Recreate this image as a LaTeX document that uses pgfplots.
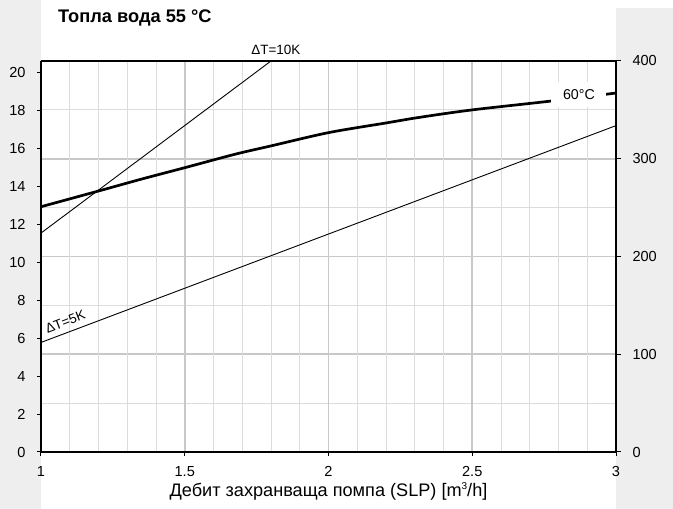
\documentclass[border=0pt]{standalone}
\usepackage{fontspec}
\setmainfont{Liberation Sans}
\usepackage{pgfplots}
\pgfplotsset{compat=1.18}
\definecolor{bggray}{HTML}{EEEEEE}
\definecolor{gmaj}{HTML}{C8C8C8}
\definecolor{gmin}{HTML}{DCDCDC}
\definecolor{thin}{HTML}{444444}
\begin{document}
\begin{tikzpicture}[x=1bp,y=1bp]
\useasboundingbox (-41,-57) rectangle (632,452);
\fill[bggray] (-41,-57) rectangle (0,452);
\fill[bggray] (575,-57) rectangle (632,444);
% right axis with horizontal grid
\begin{axis}[
  at={(0,0)}, anchor=south west,
  scale only axis, width=575bp, height=391bp,
  xmin=1, xmax=3, ymin=0, ymax=400,
  hide x axis,
  axis y line*=right,
  ytick={0,100,200,300,400},
  minor ytick={50,150,250,350},
  ymajorgrids, yminorgrids,
  major grid style={gmaj, line width=1.8bp},
  minor grid style={gmin, line width=1bp},
  tick align=outside,
  major tick length=5bp, minor tick length=0bp,
  tick style={black, line width=1bp},
  axis line style={line width=1.8bp},
  /pgf/number format/assume math mode=true,
  yticklabel style={font=\fontsize{14.6}{17}\selectfont, xshift=8bp},
]
\addplot[draw=none] coordinates {(1,0) (3,400)};
\end{axis}
% main axis
\begin{axis}[
  at={(0,0)}, anchor=south west,
  scale only axis, width=575bp, height=391bp,
  xmin=1, xmax=3, ymin=0, ymax=20.63,
  axis y line*=left, axis x line*=bottom,
  xtick={1,1.5,2,2.5,3},
  xticklabels={1,1.5,2,2.5,3},
  minor xtick={1.1,1.2,1.3,1.4,1.6,1.7,1.8,1.9,2.1,2.2,2.3,2.4,2.6,2.7,2.8,2.9},
  xmajorgrids, xminorgrids,
  major grid style={gmaj, line width=1.8bp},
  minor grid style={gmin, line width=1bp},
  ytick={0,2,...,20},
  tick align=outside,
  major tick length=4bp, minor tick length=0bp,
  tick style={black, line width=1bp},
  axis line style={line width=1.8bp, -},
  clip mode=individual,
  /pgf/number format/assume math mode=true,
  ticklabel style={font=\fontsize{14.6}{17}\selectfont},
  yticklabel style={xshift=-8bp},
  xticklabel style={yshift=-7bp},
  xlabel={Дебит захранваща помпа (SLP) [m\raisebox{0.75ex}{\fontsize{10}{10}\selectfont 3}/h]},
  xlabel style={font=\fontsize{18.2}{20}\selectfont, yshift=1bp},
]
\addplot[thin, line width=0.9bp] coordinates {(1,5.78) (3,17.22)};
\addplot[thin, line width=0.9bp] coordinates {(1,11.55) (1.8,20.63) (1.9,21.76)};
\addplot[black, line width=2.7bp, smooth] coordinates {
(1,12.94) (1.2,13.77) (1.35,14.4) (1.5,15.0) (1.675,15.71) (1.8,16.15) (2.0,16.85)
(2.2,17.36) (2.318,17.66) (2.5,18.05) (2.776,18.52) (3,18.94)};
\node[fill=white, minimum width=55bp, minimum height=25bp, inner sep=0pt,
  font=\fontsize{14.3}{16}\selectfont] at (axis cs:2.871,18.86) {60°C};
\node[anchor=base, font=\fontsize{13.5}{16}\selectfont] at (axis cs:1.817,20.95) {ΔT=10K};
\node[anchor=base west, rotate=21, inner sep=0pt, font=\fontsize{13.5}{16}\selectfont] at (axis cs:1.022,6.25) {ΔT=5K};
\end{axis}
\draw[black, line width=1.3bp] (0,391) -- (575,391);
\draw[black, line width=1.8bp] (575,0) -- (575,391.9);
\node[anchor=base west, inner sep=0pt, font=\bfseries\fontsize{18.3}{21}\selectfont] at (17,429) {Топла вода 55 °C};
\end{tikzpicture}
\end{document}
